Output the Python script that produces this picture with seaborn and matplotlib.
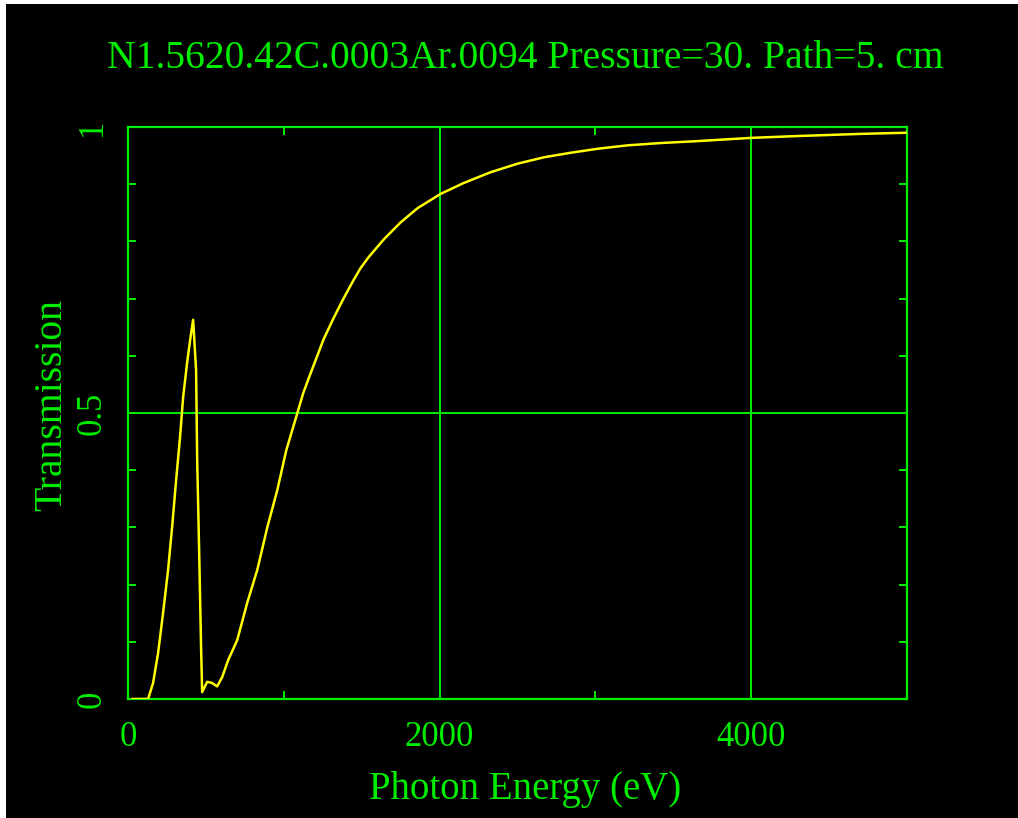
import numpy as np
import pandas as pd
import matplotlib
matplotlib.use("Agg")
import matplotlib.pyplot as plt
from matplotlib.patches import Rectangle
import seaborn as sns

# ---- data ----
energy = [30, 80, 129, 161, 193, 225, 257, 283, 309, 334, 354, 379, 399, 418,
          437, 444, 457, 469, 476, 508, 540, 572, 604, 643, 701, 765, 830,
          894, 958, 1016, 1087, 1125, 1170, 1215, 1254, 1318, 1383, 1447,
          1492, 1543, 1640, 1749, 1858, 2006, 2154, 2328, 2502, 2669, 2842,
          3016, 3209, 3421, 3633, 4000, 4277, 4707, 5000]
transmission = [0.0, 0.0, 0.0, 0.028, 0.08, 0.15, 0.225, 0.30, 0.383, 0.458,
                0.528, 0.587, 0.628, 0.663, 0.575, 0.418, 0.255, 0.091, 0.012,
                0.030, 0.028, 0.022, 0.038, 0.068, 0.103, 0.168, 0.226, 0.30,
                0.365, 0.435, 0.500, 0.535, 0.568, 0.600, 0.628, 0.665, 0.700,
                0.732, 0.753, 0.772, 0.803, 0.833, 0.858, 0.883, 0.902, 0.921,
                0.936, 0.947, 0.955, 0.962, 0.968, 0.972, 0.975, 0.981, 0.984,
                0.988, 0.990]
title = "N1.5620.42C.0003Ar.0094 Pressure=30. Path=5. cm"
xlabel = "Photon Energy (eV)"
ylabel = "Transmission"
xticks = [0, 2000, 4000]
xtick_labels = ["0", "2000", "4000"]
yticks = [0, 0.5, 1]
ytick_labels = ["0", "0.5", "1"]

GREEN = "#00ee00"
YELLOW = "#ffff00"
FONT = "Liberation Serif"

W, H = 1018, 818
fig = plt.figure(figsize=(W / 100, H / 100), dpi=100)
fig.patch.set_facecolor("white")
fig.patches.append(Rectangle((6 / W, 0), (W - 6) / W, (H - 4) / H,
                             transform=fig.transFigure, facecolor="black",
                             edgecolor="none", zorder=-10))

ax = fig.add_axes([128 / W, 1 - 699 / H, (907 - 128) / W, (699 - 127) / H])
ax.set_facecolor("black")

df = pd.DataFrame({"E": energy, "T": transmission})
sns.lineplot(data=df, x="E", y="T", ax=ax, color=YELLOW, linewidth=1.8,
             zorder=5)

ax.set_xlim(0, 5000)
ax.set_ylim(0, 1)

for s in ax.spines.values():
    s.set_color(GREEN)
    s.set_linewidth(1.6)

# grid lines at major positions
for xv in [2000, 4000]:
    ax.axvline(xv, color=GREEN, linewidth=1.4, zorder=2)
ax.axhline(0.5, color=GREEN, linewidth=1.4, zorder=2)

ax.set_xticks(xticks)
ax.set_xticklabels(xtick_labels)
ax.set_yticks(yticks)
ax.set_yticklabels(ytick_labels, rotation=90, va="center")
ax.set_xticks([1000, 3000], minor=True)
ax.set_yticks(np.arange(0.1, 1.0, 0.1), minor=True)

ax.tick_params(which="both", direction="in", colors=GREEN, width=1.4,
               top=True, right=True, labelsize=25)
ax.tick_params(which="major", length=0)
ax.tick_params(which="minor", length=6)
ax.tick_params(axis="x", which="major", pad=16)
ax.tick_params(axis="y", which="major", pad=14)
for lab in ax.get_xticklabels() + ax.get_yticklabels():
    lab.set_fontfamily(FONT)
    lab.set_color(GREEN)

ax.set_xlabel(xlabel, fontsize=28, color=GREEN, fontfamily=FONT, va="center")
ax.set_ylabel(ylabel, fontsize=28.5, color=GREEN, fontfamily=FONT, va="center")
ax.xaxis.set_label_coords((525 - 128) / 779, (699 - 790) / 572)
ax.yaxis.set_label_coords((52 - 128) / 779, (699 - 405) / 572)

fig.text(525 / W, 1 - 58 / H, title, ha="center", va="center",
         fontsize=28.5, color=GREEN, fontfamily=FONT)

fig.savefig("out.png", dpi=100, facecolor=fig.get_facecolor())
